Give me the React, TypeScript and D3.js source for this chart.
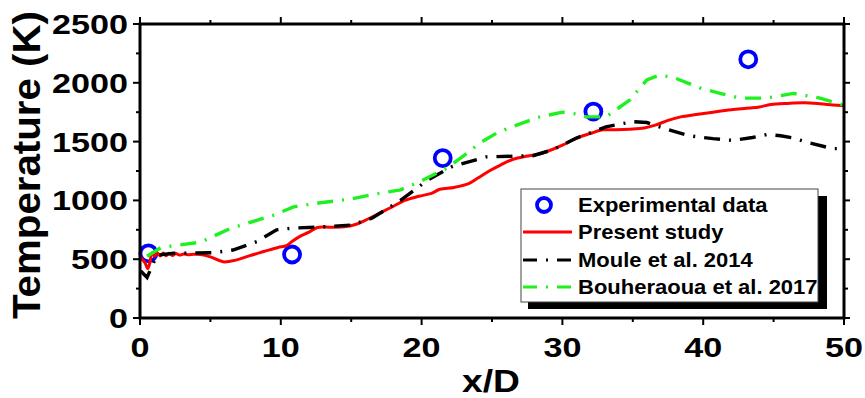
import React from "react";
import * as d3 from "d3";

// ---- Data ----
const expX = [0.6, 10.8, 21.5, 32.2, 43.2];
const expT = [550, 540, 1360, 1755, 2200];

const presentX = [0.05, 0.35, 0.55, 0.7, 0.85, 1.05, 1.25, 1.45, 1.65, 1.85, 2.05, 2.3, 2.55, 2.8, 3.1, 3.4, 3.8, 4.3, 5.0, 5.9, 6.8, 7.8, 8.8, 9.8, 10.4, 10.8, 11.3, 12.0, 12.6, 13.5, 14.5, 15.3, 16.0, 17.0, 18.0, 18.8, 19.8, 20.7, 21.3, 22.3, 23.3, 24.0, 24.8, 25.6, 26.5, 27.4, 28.2, 29.0, 30.0, 31.0, 32.0, 32.9, 33.8, 34.8, 35.8, 36.6, 37.5, 38.4, 39.5, 40.7, 42.0, 43.3, 44.0, 44.8, 46.0, 47.2, 48.3, 49.2, 50.0];
const presentT = [515, 470, 420, 470, 550, 525, 550, 528, 552, 530, 550, 532, 548, 535, 545, 538, 542, 540, 520, 478, 492, 530, 565, 600, 615, 650, 690, 730, 770, 772, 775, 795, 830, 890, 950, 1000, 1035, 1060, 1095, 1110, 1140, 1190, 1250, 1300, 1350, 1375, 1390, 1420, 1470, 1530, 1570, 1600, 1600, 1605, 1615, 1640, 1680, 1710, 1730, 1750, 1770, 1785, 1795, 1815, 1825, 1830, 1822, 1812, 1805];

const mouleX = [0.05, 0.5, 1.2, 2.4, 5.2, 6.6, 8.3, 9.7, 10.9, 13.0, 15.0, 16.5, 18.5, 20.4, 22.2, 24.6, 27.9, 29.3, 31.0, 33.1, 35.0, 36.0, 37.4, 39.0, 40.7, 42.1, 43.5, 44.5, 45.5, 46.4, 47.5, 49.2, 50.0];
const mouleT = [400, 345, 535, 550, 555, 578, 650, 750, 765, 775, 790, 850, 1000, 1170, 1290, 1370, 1380, 1430, 1530, 1625, 1670, 1662, 1605, 1550, 1525, 1510, 1535, 1560, 1550, 1530, 1490, 1440, 1440];

const bouhX = [0.5, 1.5, 4.3, 6.4, 9.5, 10.9, 12.8, 14.9, 16.5, 18.5, 19.9, 21.8, 23.0, 24.1, 25.3, 26.5, 28.4, 30.0, 31.0, 31.7, 33.1, 34.8, 36.0, 36.9, 37.9, 39.8, 41.2, 42.6, 44.5, 46.4, 48.3, 50.0];
const bouhT = [525, 600, 645, 760, 875, 945, 980, 1010, 1050, 1090, 1160, 1275, 1380, 1485, 1570, 1630, 1710, 1750, 1735, 1710, 1710, 1855, 2025, 2065, 2045, 1955, 1910, 1870, 1870, 1910, 1870, 1810];

const xMajor = [0, 10, 20, 30, 40, 50];
const xMinor = [5, 15, 25, 35, 45];
const yMajor = [0, 500, 1000, 1500, 2000, 2500];
const yMinor = [250, 750, 1250, 1750, 2250];

const legendLabels = ["Experimental data", "Present study", "Moule et al. 2014", "Bouheraoua et al. 2017"];

// ---- Layout ----
const W = 865, H = 398;
const L = 140, R = 844, T = 24, B = 318;
const FONT = "'Liberation Sans', Arial, Helvetica, sans-serif";

const x = d3.scaleLinear().domain([0, 50]).range([L, R]);
const y = d3.scaleLinear().domain([0, 2500]).range([B, T]);

const zip = (xs: number[], ys: number[]) => xs.map((v, i) => [v, ys[i]] as [number, number]);

const smoothLine = d3.line<[number, number]>().x(d => x(d[0])).y(d => y(d[1])).curve(d3.curveCatmullRom.alpha(0.5));
const linLine = d3.line<[number, number]>().x(d => x(d[0])).y(d => y(d[1])).curve(d3.curveLinear);

const RED = "#ff0000";
const BLACK = "#000000";
const GREEN = "#1ff01f";
const BLUE = "#0000ff";
const DASH = "16,9,2,9";

export default function App() {
  const axisW = 3;
  const legRows = [205, 232, 260, 287];
  return (
    <div style={{ position: "fixed", left: 0, top: 0, width: W, height: H, background: "#fff" }}>
      <svg width={W} height={H} style={{ display: "block" }} fontFamily={FONT}>
        <rect x={0} y={0} width={W} height={H} fill="#fff" />
        {/* data */}
        {expX.map((v, i) => (
          <circle key={i} cx={x(v)} cy={y(expT[i])} r={8} fill="none" stroke={BLUE} strokeWidth={3.8} />
        ))}
        <path d={smoothLine(zip(presentX, presentT)) || ""} fill="none" stroke={RED} strokeWidth={3} />
        <path d={linLine(zip(mouleX, mouleT)) || ""} fill="none" stroke={BLACK} strokeWidth={3.4} strokeDasharray={DASH} />
        <path d={linLine(zip(bouhX, bouhT)) || ""} fill="none" stroke={GREEN} strokeWidth={3.4} strokeDasharray={DASH} />

        {/* axes frame */}
        <rect x={L} y={T} width={R - L} height={B - T} fill="none" stroke="#000" strokeWidth={axisW} />
        {/* x ticks */}
        {xMajor.map(v => (
          <g key={"xm" + v}>
            <line x1={x(v)} x2={x(v)} y1={B} y2={B + 7} stroke="#000" strokeWidth={2} />
            <line x1={x(v)} x2={x(v)} y1={T} y2={T - 7} stroke="#000" strokeWidth={2} />
            <text transform={`translate(${x(v)},357) scale(1.22,1)`} textAnchor="middle" fontSize={28} fontWeight="bold">{v}</text>
          </g>
        ))}
        {xMinor.map(v => (
          <g key={"xn" + v}>
            <line x1={x(v)} x2={x(v)} y1={B} y2={B + 4} stroke="#000" strokeWidth={2} />
            <line x1={x(v)} x2={x(v)} y1={T} y2={T - 4} stroke="#000" strokeWidth={2} />
          </g>
        ))}
        {/* y ticks */}
        {yMajor.map(v => (
          <g key={"ym" + v}>
            <line x1={L} x2={L - 7} y1={y(v)} y2={y(v)} stroke="#000" strokeWidth={2} />
            <line x1={R} x2={R + 6} y1={y(v)} y2={y(v)} stroke="#000" strokeWidth={2} />
            <text transform={`translate(128,${y(v) + 10}) scale(1.22,1)`} textAnchor="end" fontSize={28} fontWeight="bold">{v}</text>
          </g>
        ))}
        {yMinor.map(v => (
          <g key={"yn" + v}>
            <line x1={L} x2={L - 4} y1={y(v)} y2={y(v)} stroke="#000" strokeWidth={2} />
            <line x1={R} x2={R + 4} y1={y(v)} y2={y(v)} stroke="#000" strokeWidth={2} />
          </g>
        ))}

        {/* axis titles */}
        <text transform={`translate(40,165) rotate(-90) scale(1.06,1)`} textAnchor="middle" fontSize={38} fontWeight="bold">Temperature (K)</text>
        <text transform={`translate(491,392) scale(1.2,1)`} textAnchor="middle" fontSize={31} fontWeight="bold">x/D</text>

        {/* legend */}
        <rect x={528} y={196} width={299} height={113} fill="#000" />
        <rect x={521} y={189} width={297} height={113} fill="#fff" stroke="#444" strokeWidth={1} />
        <circle cx={544} cy={legRows[0]} r={7} fill="none" stroke={BLUE} strokeWidth={3.8} />
        <line x1={523} x2={572} y1={legRows[1]} y2={legRows[1]} stroke={RED} strokeWidth={3} />
        <line x1={523} x2={572} y1={legRows[2]} y2={legRows[2]} stroke={BLACK} strokeWidth={3} strokeDasharray="14,9,2,9" />
        <line x1={523} x2={572} y1={legRows[3]} y2={legRows[3]} stroke={GREEN} strokeWidth={3} strokeDasharray="14,9,2,9" />
        {legendLabels.map((s, i) => (
          <text key={s} transform={`translate(578,${legRows[i] + 7}) scale(1.1,1)`} fontSize={20} fontWeight="bold">{s}</text>
        ))}
      </svg>
    </div>
  );
}
